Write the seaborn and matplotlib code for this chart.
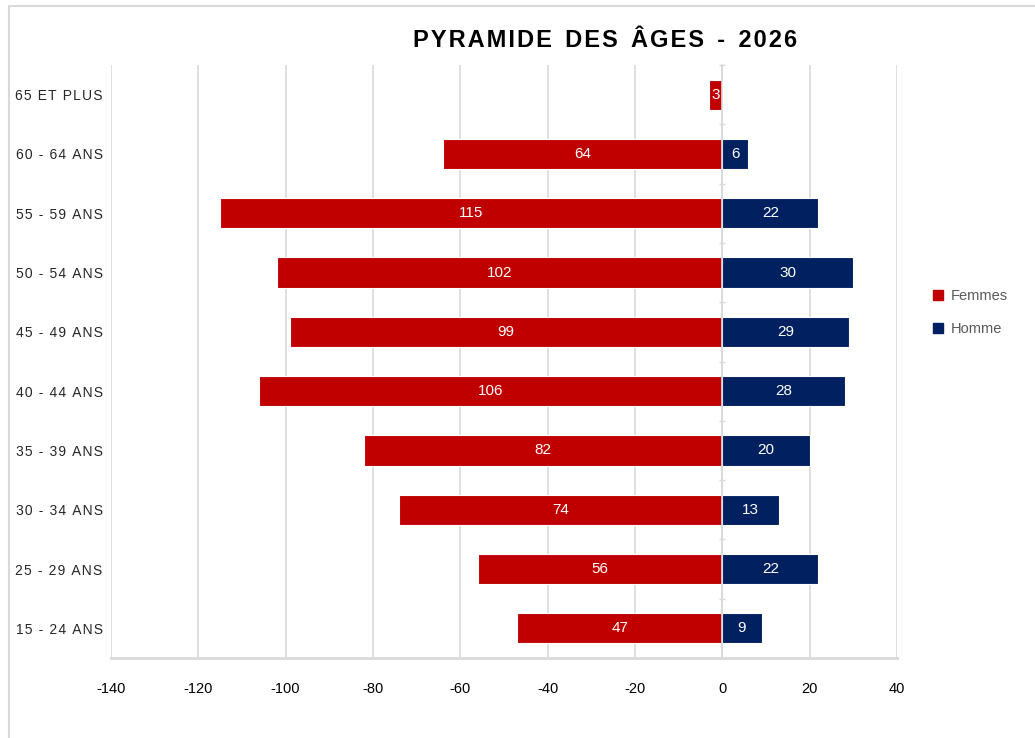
import numpy as np
import pandas as pd
import matplotlib
matplotlib.use("Agg")
import matplotlib.pyplot as plt
from matplotlib.patches import Rectangle
import seaborn as sns

# Data (top to bottom)
tranches = ["65 ET PLUS", "60 - 64 ANS", "55 - 59 ANS", "50 - 54 ANS", "45 - 49 ANS",
            "40 - 44 ANS", "35 - 39 ANS", "30 - 34 ANS", "25 - 29 ANS", "15 - 24 ANS"]
femmes = [3, 64, 115, 102, 99, 106, 82, 74, 56, 47]
hommes = [np.nan, 6, 22, 30, 29, 28, 20, 13, 22, 9]
x_ticks = [-140, -120, -100, -80, -60, -40, -20, 0, 20, 40]

ROUGE = "#C00000"
MARINE = "#002060"
GRIS = "#D9D9D9"

df = pd.concat([
    pd.DataFrame({"tranche": tranches, "sexe": "Femmes", "valeur": [-v for v in femmes]}),
    pd.DataFrame({"tranche": tranches, "sexe": "Homme", "valeur": hommes}),
], ignore_index=True)

sns.set_style("white")
plt.rcParams["font.family"] = ["Liberation Sans", "DejaVu Sans"]


def espacer(txt):
    # letter spacing, as in the original chart
    return "\u200a".join(txt)


fig = plt.figure(figsize=(10.35, 7.38), dpi=100)
ax = fig.add_axes([0.1072, 0.1084, 0.7594, 0.8035])

sns.barplot(data=df, x="valeur", y="tranche", hue="sexe", order=tranches,
            palette={"Femmes": ROUGE, "Homme": MARINE}, dodge=False, saturation=1,
            width=0.51, orient="h", edgecolor="white", linewidth=0.8,
            legend=False, ax=ax, zorder=3)

for cont in ax.containers:
    labels = ["" if np.isnan(v) else f"{abs(v):.0f}" for v in cont.datavalues]
    ax.bar_label(cont, labels=labels, label_type="center", color="white", fontsize=11)

ax.set_xlim(-140, 40)
ax.set_ylim(len(tranches) - 0.5, -0.5)
ax.set_xticks(x_ticks)
ax.set_xticklabels([str(t) for t in x_ticks], fontsize=10.5)
ax.tick_params(axis="x", length=5, width=1.5, pad=12, colors=GRIS, labelcolor="black")
ax.set_yticks(range(len(tranches)))
ax.set_yticklabels([espacer(t) for t in tranches], fontsize=10, color="#262626")
ax.tick_params(axis="y", length=0, pad=6)
ax.set_xlabel("")
ax.set_ylabel("")
ax.grid(axis="x", color=GRIS, linewidth=1.2, zorder=0)
ax.set_axisbelow(True)
for s in ["top", "right", "left"]:
    ax.spines[s].set_visible(False)
ax.spines["bottom"].set_color(GRIS)
ax.spines["bottom"].set_linewidth(2)

# vertical axis at zero with small ticks between categories
sec = ax.secondary_yaxis((0 - (-140)) / 180)
sec.set_yticks(np.arange(-0.5, len(tranches), 1.0))
sec.set_yticklabels([])
sec.tick_params(length=4, direction="inout", color=GRIS, width=1)
for sp in sec.spines.values():
    sp.set_color(GRIS)
    sp.set_linewidth(1.2)
sec.set_zorder(4)

# legend
handles = [Rectangle((0, 0), 1, 1, color=ROUGE), Rectangle((0, 0), 1, 1, color=MARINE)]
fig.legend(handles, ["Femmes", "Homme"], loc="center left", bbox_to_anchor=(0.889, 0.576),
           frameon=False, handlelength=0.7, handleheight=0.7, handletextpad=0.5,
           labelspacing=1.3, fontsize=10.5, labelcolor="#595959")

# title
fig.text(0.585, 0.945, "P Y R A M I D E   D E S   Â G E S   -   2 0 2 6".replace(" ", "\u200a").replace("\u200a\u200a\u200a", "  "),
         ha="center", va="center", fontsize=17, fontweight="bold", color="black")

# chart border
fig.patches.append(Rectangle((9 / 1035, -0.1), 1.2, 1 - 6 / 738 + 0.1, transform=fig.transFigure,
                             fill=False, edgecolor=GRIS, linewidth=1.5))

fig.savefig("out.png", dpi=100)
